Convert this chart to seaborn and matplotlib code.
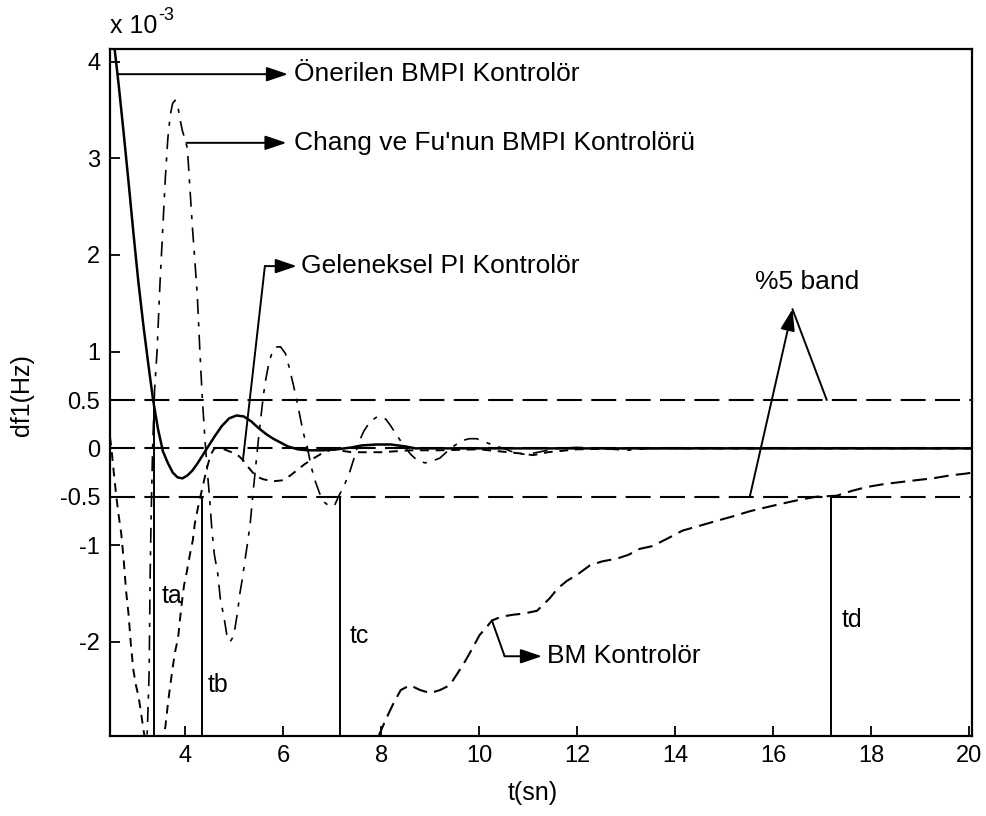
import matplotlib
matplotlib.use("Agg")
import matplotlib.pyplot as plt
import pandas as pd
import seaborn as sns

# Frequency deviation of area 1 (in units of 1e-3 Hz) versus time (s)
t_prop = [2.47, 2.55, 2.65, 2.75, 2.85, 2.95, 3.05, 3.15, 3.25, 3.35, 3.45, 3.55, 3.65,
          3.75, 3.85, 3.95, 4.05, 4.15, 4.25, 4.35, 4.45, 4.6, 4.75, 4.9, 5.05, 5.2, 5.35,
          5.5, 5.65, 5.8, 5.95, 6.1, 6.3, 6.5, 6.8, 7.1, 7.4, 7.6, 7.9, 8.2, 8.5, 8.7, 9.0,
          10.0, 12.0, 14.0, 16.0, 18.0, 20.05]
df_prop = [4.55, 4.2, 3.75, 3.26, 2.75, 2.22, 1.72, 1.28, 0.88, 0.5, 0.2, -0.03, -0.15,
           -0.25, -0.3, -0.31, -0.28, -0.23, -0.16, -0.08, 0.0, 0.12, 0.23, 0.31, 0.34, 0.33,
           0.28, 0.21, 0.15, 0.1, 0.06, 0.02, -0.01, -0.02, -0.02, -0.01, 0.01, 0.03, 0.04,
           0.04, 0.02, 0.0, 0.0, 0.0, 0.0, 0.0, 0.0, 0.0, 0.0]

t_chang = [3.21, 3.24, 3.27, 3.28, 3.29, 3.31, 3.34, 3.38, 3.43, 3.49, 3.55, 3.6, 3.65, 3.7,
           3.75, 3.8, 3.85, 3.9, 3.95, 4.0, 4.05, 4.1, 4.15, 4.2, 4.25, 4.3, 4.35, 4.4, 4.45,
           4.5, 4.55, 4.6, 4.67, 4.72, 4.8, 4.86, 4.92, 4.97, 5.02, 5.07, 5.12, 5.17, 5.22,
           5.27, 5.33, 5.4, 5.45, 5.5, 5.55, 5.6, 5.65, 5.7, 5.75, 5.8, 5.88, 5.95, 6.05,
           6.12, 6.2, 6.28, 6.35, 6.42, 6.5, 6.58, 6.65, 6.75, 6.85, 6.95, 7.05, 7.15, 7.25,
           7.35, 7.45, 7.55, 7.65, 7.78, 7.9, 8.0, 8.1, 8.2, 8.3, 8.45, 8.6, 8.75, 8.9, 9.05,
           9.2, 9.35, 9.5, 9.65, 9.8, 9.95, 10.1, 10.3, 10.5, 10.7, 10.9, 11.1, 11.3, 11.6,
           12.0, 12.5, 13.0, 13.5, 14.0, 20.05]
df_chang = [-3.2, -2.8, -2.3, -1.8, -1.3, -0.7, 0.0, 0.6, 1.0, 1.7, 2.3, 2.8, 3.2, 3.45,
            3.57, 3.6, 3.55, 3.4, 3.28, 3.2, 3.1, 2.7, 2.3, 1.95, 1.6, 1.05, 0.55, 0.15, -0.2,
            -0.5, -0.85, -1.1, -1.3, -1.55, -1.76, -1.95, -2.0, -1.96, -1.86, -1.7, -1.5,
            -1.35, -1.17, -1.0, -0.78, -0.4, -0.15, 0.1, 0.33, 0.55, 0.72, 0.85, 0.95, 1.02,
            1.05, 1.05, 0.98, 0.85, 0.68, 0.5, 0.32, 0.15, 0.0, -0.2, -0.33, -0.47, -0.56,
            -0.6, -0.59, -0.48, -0.38, -0.26, -0.1, 0.07, 0.18, 0.28, 0.32, 0.33, 0.3, 0.23,
            0.15, 0.04, -0.06, -0.13, -0.15, -0.13, -0.1, -0.03, 0.03, 0.08, 0.1, 0.1, 0.07,
            0.03, 0.0, -0.04, -0.06, -0.05, -0.03, 0.0, 0.01, 0.0, -0.02, 0.0, 0.0, 0.0]

t_pi = [2.47, 2.5, 2.55, 2.6, 2.65, 2.7, 2.75, 2.8, 2.85, 2.9, 2.95, 3.0, 3.05, 3.1, 3.15,
        3.2, 3.3, 3.45, 3.55, 3.6, 3.65, 3.7, 3.76, 3.8, 3.86, 3.9, 3.94, 3.98, 4.04, 4.1,
        4.16, 4.2, 4.27, 4.35, 4.45, 4.52, 4.6, 4.7, 4.8, 4.95, 5.1, 5.2, 5.3, 5.45, 5.6,
        5.8, 6.0, 6.15, 6.3, 6.45, 6.6, 6.8, 7.0, 7.4, 8.0, 8.6, 9.2, 10.0, 10.8, 11.1,
        11.4, 12.0, 13.0, 20.05]
df_pi = [0.12, 0.0, -0.26, -0.5, -0.7, -0.88, -1.15, -1.48, -1.72, -2.05, -2.3, -2.45,
         -2.56, -2.72, -2.9, -3.05, -3.2, -3.15, -3.0, -2.88, -2.65, -2.45, -2.23, -2.1,
         -1.96, -1.76, -1.58, -1.42, -1.27, -1.1, -0.95, -0.78, -0.6, -0.42, -0.2, -0.07,
         0.0, 0.01, -0.01, -0.04, -0.08, -0.13, -0.2, -0.29, -0.32, -0.34, -0.33, -0.28,
         -0.22, -0.16, -0.11, -0.05, -0.01, -0.04, -0.04, -0.02, -0.02, -0.01, -0.05, -0.07,
         -0.04, -0.01, 0.0, 0.0]

t_bm = [7.85, 7.97, 8.1, 8.24, 8.4, 8.59, 8.8, 9.0, 9.2, 9.4, 9.67, 9.85, 10.01, 10.15,
        10.26, 10.46, 10.7, 10.89, 11.18, 11.44, 11.6, 11.79, 11.99, 12.26, 12.5, 12.81,
        13.05, 13.27, 13.54, 13.85, 14.15, 14.5, 14.84, 15.2, 15.52, 15.85, 16.19, 16.55,
        16.88, 17.29, 17.6, 17.9, 18.25, 18.57, 18.9, 19.25, 19.6, 19.94, 20.05]
df_bm = [-3.2, -2.95, -2.8, -2.65, -2.5, -2.45, -2.5, -2.53, -2.5, -2.45, -2.24, -2.08,
         -1.93, -1.85, -1.78, -1.74, -1.72, -1.71, -1.68, -1.55, -1.45, -1.37, -1.31, -1.21,
         -1.17, -1.14, -1.1, -1.04, -1.01, -0.93, -0.85, -0.8, -0.75, -0.7, -0.65, -0.61,
         -0.57, -0.53, -0.5, -0.49, -0.44, -0.4, -0.37, -0.35, -0.33, -0.31, -0.28, -0.26,
         -0.25]

# %5 settling band and settling-time markers
band_levels = [0.5, 0.0, -0.5]
t_marks = [3.36, 4.34, 7.17, 17.18]
mark_levels = [0.5, -0.5, -0.5, -0.5]
mark_names = ["ta", "tb", "tc", "td"]

x_ticks = [4, 6, 8, 10, 12, 14, 16, 18, 20]
y_ticks = [-2, -1, -0.5, 0, 0.5, 1, 2, 3, 4]
y_ticklabels = ["-2", "-1", "-0.5", "0", "0.5", "1", "2", "3", "4"]

XLIM = (2.47, 20.05)
YLIM = (-2.97, 4.13)

sns.set_theme(style="white")
plt.rcParams["font.family"] = ["Liberation Sans", "DejaVu Sans"]
plt.rcParams["text.color"] = "black"
plt.rcParams["axes.labelcolor"] = "black"

fig = plt.figure(figsize=(9.87, 8.16), dpi=100)
ax = fig.add_axes([0.1114, 0.0986, 0.8733, 0.8413])

band_ls = (0, (12, 4.5))
for lvl in band_levels:
    ax.axhline(lvl, color="black", lw=1.5, ls=band_ls, zorder=1)

ax.vlines(t_marks, YLIM[0], mark_levels, color="black", lw=1.4, zorder=2)

curves = [
    (t_bm, df_bm, (0, (7, 3.5)), 1.5),
    (t_pi, df_pi, (0, (4.5, 3.5)), 1.4),
    (t_chang, df_chang, (0, (9, 5, 2.5, 5)), 1.2),
    (t_prop, df_prop, "-", 1.8),
]
for tx, fy, ls, lw in curves:
    sns.lineplot(x=tx, y=fy, ax=ax, color="black", lw=lw, ls=ls,
                 estimator=None, sort=False, zorder=3)

ax.set_xlim(*XLIM)
ax.set_ylim(*YLIM)
ax.set_xticks(x_ticks)
ax.set_xticklabels([str(v) for v in x_ticks])
ax.set_yticks(y_ticks)
ax.set_yticklabels(y_ticklabels)
ax.tick_params(direction="in", length=7, width=1.3, labelsize=17, pad=7,
               colors="black", bottom=True, left=True)
for sp in ax.spines.values():
    sp.set_visible(True)
    sp.set_color("black")
    sp.set_linewidth(1.6)

ax.set_xlabel("t(sn)", fontsize=18)
ax.set_ylabel("df1(Hz)", fontsize=18)
ax.xaxis.set_label_coords(0.49, -0.066)
ax.yaxis.set_label_coords(-0.088, 0.496)

# axis multiplier written as plain text with a raised exponent
fig.text(0.1114, 0.9596, "x 10", fontsize=18, ha="left", va="baseline")
fig.text(0.1600, 0.9760, "-3", fontsize=13, ha="left", va="baseline")

arrow_kw = dict(arrowstyle="-|>,head_length=0.65,head_width=0.22", color="black",
                lw=1.4, shrinkA=0, shrinkB=0, mutation_scale=20)
fs = 19

# Önerilen BMPI
ax.annotate("", xy=(6.1, 3.87), xytext=(2.63, 3.87), arrowprops=arrow_kw)
ax.text(6.22, 3.87, "Önerilen BMPI Kontrolör", fontsize=fs, va="center", ha="left")

# Chang ve Fu
ax.annotate("", xy=(6.07, 3.16), xytext=(4.03, 3.16), arrowprops=arrow_kw)
ax.text(6.22, 3.16, "Chang ve Fu'nun BMPI Kontrolörü", fontsize=fs, va="center", ha="left")

# Geleneksel PI
ax.plot([5.18, 5.63], [-0.13, 1.885], color="black", lw=1.4)
ax.annotate("", xy=(6.28, 1.885), xytext=(5.63, 1.885), arrowprops=arrow_kw)
ax.text(6.36, 1.885, "Geleneksel PI Kontrolör", fontsize=fs, va="center", ha="left")

# BM
ax.plot([10.26, 10.52], [-1.78, -2.15], color="black", lw=1.4)
ax.annotate("", xy=(11.28, -2.15), xytext=(10.52, -2.15), arrowprops=arrow_kw)
ax.text(11.38, -2.15, "BM Kontrolör", fontsize=fs, va="center", ha="left")

# %5 band
ax.annotate("", xy=(16.39, 1.44), xytext=(15.52, -0.5), arrowprops=arrow_kw)
ax.plot([16.39, 17.09], [1.44, 0.5], color="black", lw=1.4)
ax.text(16.68, 1.72, "%5 band", fontsize=fs, va="center", ha="center")

label_pos = [(3.53, -1.53), (4.47, -2.45), (7.36, -1.94), (17.39, -1.78)]
for name, (lx, ly) in zip(mark_names, label_pos):
    ax.text(lx, ly, name, fontsize=18, va="center", ha="left")

fig.savefig("out.png", dpi=100, facecolor="white")
